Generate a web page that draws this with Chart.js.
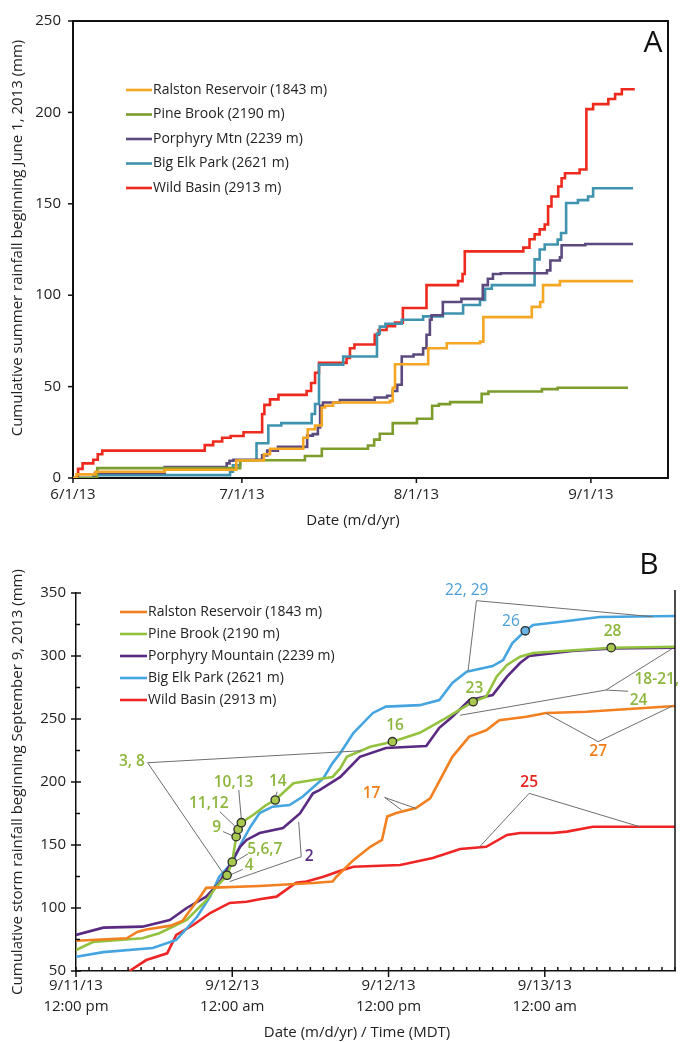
<!DOCTYPE html>
<html>
<head>
<meta charset="utf-8">
<script src="https://cdn.jsdelivr.net/npm/chart.js@4.4.0/dist/chart.umd.min.js"></script>
<style>
  html, body { margin: 0; padding: 0; background: #fff; }
  #wrap { position: relative; width: 683px; height: 1042px; }
  canvas { position: absolute; left: 0; }
</style>
</head>
<body>
<div id="wrap">
  <canvas id="chartA" width="683" height="530" style="top:0"></canvas>
  <canvas id="chartB" width="683" height="512" style="top:530px"></canvas>
</div>
<script>
/* Cumulative rainfall, summer 2013 (A) and September 2013 storm (B) */

const FONT = "'Open Sans', 'Noto Sans', sans-serif";
Chart.defaults.font.family = FONT;
Chart.defaults.font.size = 15;
Chart.defaults.color = '#222';

// ── Panel A data: [day since 6/1/13, mm] at each step ──────────────────────

const stationsA = ['Ralston Reservoir (1843 m)', 'Pine Brook (2190 m)', 'Porphyry Mtn (2239 m)', 'Big Elk Park (2621 m)', 'Wild Basin (2913 m)'];
const colorsA = ['#f5a623', '#7c9c2c', '#5c4a7e', '#3f93ae', '#ee2a1e'];
const dayTicksA = [0, 30, 61, 92];
const dayLabelsA = ['6/1/13', '7/1/13', '8/1/13', '9/1/13'];

const ralstonA = [[0,0],[0.6,2],[4,3.4],[16.3,4.5],[29,9.6],[33.9,13],[35,16],[40.9,22],[41.7,26.7],[43,28.7],[44.2,38.6],[44.8,39.5],[46.2,41.3],[56.3,42.2],[56.8,49.4],[57.2,62.2],[63.1,71],[66.4,73.7],[72.3,74.6],[72.9,88],[81.5,93.6],[83,96.3],[83.5,105.5],[86.5,107.7],[99.5,107.7]];
const pineA = [[0,0],[4.3,5.4],[29.7,9.7],[41.2,12],[44.2,16],[52.4,17.8],[53.5,21],[54.5,24.2],[56.8,30],[61.1,32.4],[63.8,39.5],[65,40.4],[67,41.5],[72.6,46],[73.8,47.3],[83.3,48.6],[86.1,49.4],[98.6,49.4]];
const porphyryA = [[0,0],[3.9,2.7],[16.3,6],[27.3,8],[27.8,9.4],[28.5,10],[33.6,12.4],[34.5,15],[36.4,17],[41.6,23.2],[42.6,24],[43.5,27.6],[43.9,39.5],[44.4,41.3],[47.4,42.7],[53.6,44],[55.8,45],[56.8,47.6],[57.6,51],[58.4,66.5],[60.5,67.6],[62.2,71],[62.8,78.4],[63.4,86.6],[63.7,89],[65.7,96.3],[69,98],[72.8,105.5],[73.7,109],[74.6,111.6],[76,112],[84.2,113.6],[84.8,119],[86.5,120.7],[86.8,127.3],[91,128],[99.5,128]];
const bigElkA = [[0,0],[3.6,1.6],[27.9,3.4],[28.4,7],[29.7,9.7],[32.6,19],[34.7,28.7],[37,30],[42.4,35],[43,40.5],[43.7,62],[48,66.5],[54,79],[54.5,82.8],[55.5,84.4],[58.4,86.6],[62.2,88.4],[65.7,90],[69.3,94.6],[72.3,97.4],[73.2,103.5],[74.4,105.5],[82,119.6],[82.9,125],[83.8,127.7],[86.1,130.4],[86.7,134],[87.6,150.4],[89.7,152],[91.5,154],[92.4,158.5],[99.5,158.5]];
const wildA = [[0,0],[0.9,5],[1.7,8],[3.6,10],[4.4,13],[5.2,15],[23.4,18],[24.9,20],[26.5,22],[28,23],[30.3,25],[33.6,35],[34,40],[35,43],[36.5,45.5],[41.5,47.6],[42.3,52],[43,57.6],[43.7,63],[48.6,65.7],[49.2,71],[50,73],[53.6,78.4],[54.3,81],[55.7,83],[57.2,85],[58.6,93],[62.8,105.5],[68.4,107.7],[69.2,111.6],[69.6,124],[80,126],[81.1,130.6],[82,133.3],[82.9,136],[83.8,138.7],[84.4,148.6],[85,154],[86.2,159.5],[86.8,164],[87.4,166.7],[90,168.8],[91.2,201.8],[92.4,204.5],[95.1,207.3],[96.3,210],[97.5,212.7],[99.8,212.7]];

// ── Panel B data: [hours since 9/11/13 12:00 pm, mm] ───────────────────────

const stationsB = ['Ralston Reservoir (1843 m)', 'Pine Brook (2190 m)', 'Porphyry Mountain (2239 m)', 'Big Elk Park (2621 m)', 'Wild Basin (2913 m)'];
const colorsB = ['#f38020', '#93c23f', '#5a2a82', '#45a5e0', '#ee2524'];
const hourTicksB = [0, 12, 24, 36];
const hourLabelsB = [['9/11/13', '12:00 pm'], ['9/12/13', '12:00 am'], ['9/12/13', '12:00 pm'], ['9/13/13', '12:00 am']];

const ralstonB = [[0,74],[3.9,76],[4.7,81],[5.4,83],[7.3,86],[8.2,90],[8.5,94.4],[9.6,110],[10,116],[14.1,117.5],[18.2,119.8],[19.7,121],[20,124.8],[21.3,138],[22.6,148.6],[23.5,154],[23.9,172.6],[24.6,175.4],[26.1,179.4],[27.2,187],[28.9,220],[30.2,236],[31.5,241],[32.5,249],[34.6,251.8],[36.1,254.8],[39.2,255.8],[46,260.3]];
const pineB = [[0,66.7],[1.3,73],[5.1,76],[6.4,80],[8.5,90.5],[10,106],[10.8,117],[11.6,126],[12,136.5],[12.3,156.6],[12.45,162.4],[12.7,167.7],[13.6,173.8],[14.6,181.7],[15.3,185.7],[16.7,199],[18.2,201.6],[19.7,204],[20.3,211],[20.8,220],[22.6,228],[24.3,232],[26.4,239],[28.4,250.7],[30.5,263.7],[31.5,267.7],[32.3,283.6],[33.1,292.9],[34.1,299.5],[35.1,302.4],[41.1,306.6],[46,307.4]];
const porphyryB = [[0,78.6],[2.1,84.4],[5.1,85.2],[7.2,90.5],[8.5,100],[10,109],[11,120],[11.8,134],[12.6,148.6],[13.1,154],[14.1,159.5],[15.9,163.5],[17.2,175],[18.2,191],[18.7,193.6],[20.3,204],[21.8,220],[23.8,227],[26.9,228.6],[27.9,243],[28.9,251.8],[30.2,265],[32,269],[33.1,283.6],[34.1,294.4],[34.8,300],[38.1,304],[41.2,306],[46,306.5]];
const bigElkB = [[0,61.3],[2.1,65],[5.9,68.2],[7.7,74.6],[9.3,93],[10.3,109],[11,124.8],[11.6,131.7],[12,135.7],[12.7,151.6],[13.4,164.5],[14.1,175.4],[15.1,180.4],[16.4,181.7],[17.4,188.3],[19,203],[19.7,215],[20.3,223],[21.3,238.9],[22.8,254.8],[23.8,259.8],[26.4,261],[27.9,265],[28.9,278.6],[30,287.5],[32,292],[32.8,296.8],[33.5,310],[34.5,320],[35.1,324.6],[37.1,327],[40.2,331],[46,331.7]];
const wildB = [[4.1,50],[5.4,58.7],[7,64],[7.7,78.6],[9,86.5],[10.3,96],[11.8,104],[13.1,105],[14.1,107],[15.4,109],[16.9,120],[17.7,121],[19,124.8],[20.3,129.6],[21.3,132.8],[24.9,134.1],[27.4,139.6],[29.5,146.8],[31.5,148.6],[33.1,158],[34.1,159.5],[36.6,159.5],[37.7,160.6],[39.7,164.5],[46,164.5]];

// marked storm cells [hours, mm]
const pineMarks = [[11.6,126],[12,136.5],[12.3,156.6],[12.45,162.4],[12.7,167.7],[15.3,185.7],[24.3,232],[30.5,263.7],[41.1,306.6]];
const bigElkMarks = [[34.5,320]];

// annotation labels and leader lines [hours, mm]
const notesB = [
  ['22, 29', 30, 352, '#4a9fd8'], ['26', 33.4, 327, '#4a9fd8'],
  ['28', 41.2, 319, '#8cb63c'], ['23', 30.6, 274, '#8cb63c'], ['16', 24.5, 245, '#8cb63c'],
  ['18-21,', 44.6, 281, '#8cb63c'], ['24', 43.2, 264.5, '#8cb63c'],
  ['27', 40.1, 224, '#f07d1a'], ['25', 34.8, 199.5, '#e8231f'], ['17', 22.7, 191, '#f07d1a'],
  ['3, 8', 4.3, 216, '#8cb63c'], ['10,13', 12.1, 199.5, '#8cb63c'], ['14', 15.5, 200, '#8cb63c'],
  ['11,12', 10.2, 183, '#8cb63c'], ['9', 10.8, 163.7, '#8cb63c'], ['5,6,7', 14.5, 146, '#8cb63c'],
  ['4', 13.3, 133.6, '#8cb63c'], ['2', 17.9, 140.7, '#5a2a82'],
];
const leadersB = [
  [30.75,343.9, 44.3,331.2], [30.75,343.9, 30.1,287.5],
  [40.7,273, 45.8,306], [40.7,273, 29.5,253], [40.7,273, 42.4,272],
  [40.1,232, 36.1,254.5], [40.1,232, 45.8,260.3],
  [34.8,191, 31,148.6], [34.8,191, 43.3,164.5],
  [23.7,187.8, 25,177.8], [23.7,187.8, 26.1,179],
  [5.5,215.3, 21.9,224.8], [5.5,215.3, 11.3,127.5],
  [12.5,193.6, 12.7,170], [15.45,192.3, 15.3,188],
  [11.05,176.4, 12.2,165], [11.3,160.6, 12.1,157],
  [13.2,142.9, 12.1,136], [12.8,130.7, 11.8,126],
  [17.3,140.7, 17.1,168.5], [17.3,140.7, 11.8,121],
];

const pts = arr => arr.map(([x, y]) => ({ x, y }));

// ── Shared drawing helpers ─────────────────────────────────────────────────

function line(ctx, x1, y1, x2, y2) {
  ctx.beginPath(); ctx.moveTo(x1, y1); ctx.lineTo(x2, y2); ctx.stroke();
}

function legendPlugin(labels, colors, x1, x2, y0, dy) {
  return {
    id: 'insideLegend',
    afterDraw(chart) {
      const ctx = chart.ctx;
      ctx.save();
      ctx.font = `14px ${FONT}`;
      ctx.textBaseline = 'middle';
      labels.forEach((t, i) => {
        const y = y0 + i * dy;
        ctx.strokeStyle = colors[i]; ctx.lineWidth = 2.6;
        line(ctx, x1, y, x2, y);
        ctx.fillStyle = '#222';
        ctx.fillText(t, x2 + 1, y);
      });
      ctx.restore();
    }
  };
}

function titlesPlugin(yTitle, yTitleY, xTitle, xTitleX, xTitleY, letter, lx, ly) {
  return {
    id: 'titles',
    afterDraw(chart) {
      const ctx = chart.ctx;
      ctx.save();
      ctx.fillStyle = '#222';
      ctx.textAlign = 'center'; ctx.textBaseline = 'middle';
      ctx.font = `15px ${FONT}`;
      ctx.fillText(xTitle, xTitleX, xTitleY);
      ctx.translate(18, yTitleY); ctx.rotate(-Math.PI / 2);
      ctx.fillText(yTitle, 0, 0);
      ctx.restore();
      ctx.save();
      ctx.fillStyle = '#111';
      ctx.font = `30px ${FONT}`;
      ctx.textAlign = 'center'; ctx.textBaseline = 'middle';
      ctx.fillText(letter, lx, ly);
      ctx.restore();
    }
  };
}

// ── Panel A ────────────────────────────────────────────────────────────────

const frameA = {
  id: 'frameA',
  afterDraw(chart) {
    const { ctx, chartArea: a, scales: { x, y } } = chart;
    ctx.save();
    ctx.strokeStyle = '#111'; ctx.lineWidth = 2;
    ctx.beginPath();
    ctx.moveTo(a.left, a.top); ctx.lineTo(a.right, a.top); ctx.lineTo(a.right, a.bottom);
    ctx.stroke();
    ctx.lineWidth = 1.5;
    for (let v = 0; v <= 250; v += 50) {
      const py = y.getPixelForValue(v);
      line(ctx, a.left - 5, py, a.left, py);
    }
    dayTicksA.forEach(d => {
      const px = x.getPixelForValue(d);
      line(ctx, px, a.bottom, px, a.bottom + 5);
    });
    ctx.restore();
  }
};

new Chart(el('chartA'), {
  type: 'line',
  data: {
    datasets: [ralstonA, pineA, porphyryA, bigElkA, wildA].map((s, i) => ({
      label: stationsA[i],
      data: pts(s),
      borderColor: colorsA[i],
      borderWidth: 2.6,
      stepped: true,
      pointRadius: 0,
      fill: false,
    }))
  },
  options: {
    responsive: false,
    animation: false,
    layout: { padding: { top: 16, right: 15, left: 0, bottom: 0 } },
    plugins: { legend: { display: false }, tooltip: { enabled: false } },
    scales: {
      x: {
        type: 'linear', min: 0, max: 105.7,
        afterBuildTicks: s => { s.ticks = dayTicksA.map(v => ({ value: v })); },
        ticks: { callback: (v, i) => dayLabelsA[i], padding: 8, maxRotation: 0, autoSkip: false, font: { size: 15 } },
        grid: { display: false, drawTicks: false },
        border: { color: '#111', width: 2 },
        afterFit: s => { s.height = 52; }
      },
      y: {
        min: 0, max: 250,
        ticks: { stepSize: 50, padding: 12, font: { size: 15 } },
        grid: { display: false, drawTicks: false },
        border: { color: '#111', width: 2 },
        afterFit: s => { s.width = 73; }
      }
    }
  },
  plugins: [
    frameA,
    legendPlugin(stationsA, colorsA, 126, 152, 90, 24.5),
    titlesPlugin('Cumulative summer rainfall beginning June 1, 2013 (mm)', 238,
                 'Date (m/d/yr)', 353, 521, 'A', 653, 43)
  ]
});

// ── Panel B ────────────────────────────────────────────────────────────────

const frameB = {
  id: 'frameB',
  afterDraw(chart) {
    const { ctx, chartArea: a, scales: { x, y } } = chart;
    ctx.save();
    ctx.strokeStyle = '#111'; ctx.lineWidth = 1.5;
    line(ctx, a.right, a.top - 3, a.right, a.bottom);
    for (let v = 50; v <= 350; v += 25) {
      const py = y.getPixelForValue(v);
      if (v % 50 === 0) line(ctx, a.left - 5, py, a.left + 5, py);
      else line(ctx, a.left, py, a.left + 4, py);
    }
    for (let h = 0; h <= 46; h++) {
      const px = x.getPixelForValue(h);
      if (h % 12 === 0) line(ctx, px, a.bottom - 4, px, a.bottom + 6);
      else line(ctx, px, a.bottom - 4, px, a.bottom);
    }
    ctx.restore();
  }
};

const notesPlugin = {
  id: 'notes',
  afterDatasetsDraw(chart) {
    const { ctx, scales: { x, y } } = chart;
    const X = v => x.getPixelForValue(v), Y = v => y.getPixelForValue(v);
    ctx.save();
    ctx.strokeStyle = '#6e6e6e'; ctx.lineWidth = 1;
    leadersB.forEach(([h1, v1, h2, v2]) => line(ctx, X(h1), Y(v1), X(h2), Y(v2)));
    const dot = ([h, v], fill) => {
      ctx.beginPath(); ctx.arc(X(h), Y(v), 4.2, 0, Math.PI * 2);
      ctx.fillStyle = fill; ctx.fill();
      ctx.strokeStyle = '#2d2d2d'; ctx.lineWidth = 1.3; ctx.stroke();
    };
    pineMarks.forEach(p => dot(p, '#a8c84e'));
    bigElkMarks.forEach(p => dot(p, '#6cb6e6'));
    ctx.textAlign = 'center'; ctx.textBaseline = 'middle';
    notesB.forEach(([t, h, v, c]) => {
      ctx.font = (c === '#4a9fd8' ? '' : '600 ') + `15.5px ${FONT}`;
      ctx.fillStyle = c;
      ctx.fillText(t, X(h), Y(v));
    });
    ctx.restore();
  }
};

new Chart(el('chartB'), {
  type: 'line',
  data: {
    datasets: [ralstonB, pineB, porphyryB, bigElkB, wildB].map((s, i) => ({
      label: stationsB[i],
      data: pts(s),
      borderColor: colorsB[i],
      borderWidth: 2.6,
      pointRadius: 0,
      tension: 0,
      fill: false,
    }))
  },
  options: {
    responsive: false,
    animation: false,
    layout: { padding: { top: 63, right: 8, left: 0, bottom: 0 } },
    plugins: { legend: { display: false }, tooltip: { enabled: false } },
    scales: {
      x: {
        type: 'linear', min: 0, max: 46,
        afterBuildTicks: s => { s.ticks = hourTicksB.map(v => ({ value: v })); },
        ticks: { callback: (v, i) => hourLabelsB[i], padding: 5, maxRotation: 0, autoSkip: false,
                 font: { size: 15, lineHeight: 1.35 } },
        grid: { display: false, drawTicks: false },
        border: { color: '#111', width: 1.5 },
        afterFit: s => { s.height = 71; }
      },
      y: {
        min: 50, max: 350,
        ticks: { stepSize: 50, padding: 10, font: { size: 15 } },
        grid: { display: false, drawTicks: false },
        border: { color: '#111', width: 1.5 },
        afterFit: s => { s.width = 76; }
      }
    }
  },
  plugins: [
    frameB,
    notesPlugin,
    legendPlugin(stationsB, colorsB, 120, 147, 82, 22),
    titlesPlugin('Cumulative storm rainfall beginning September 9, 2013 (mm)', 252,
                 'Date (m/d/yr) / Time (MDT)', 357, 503, 'B', 649, 35)
  ]
});

function el(id) { return document.getElementById(id); }
</script>
</body>
</html>
